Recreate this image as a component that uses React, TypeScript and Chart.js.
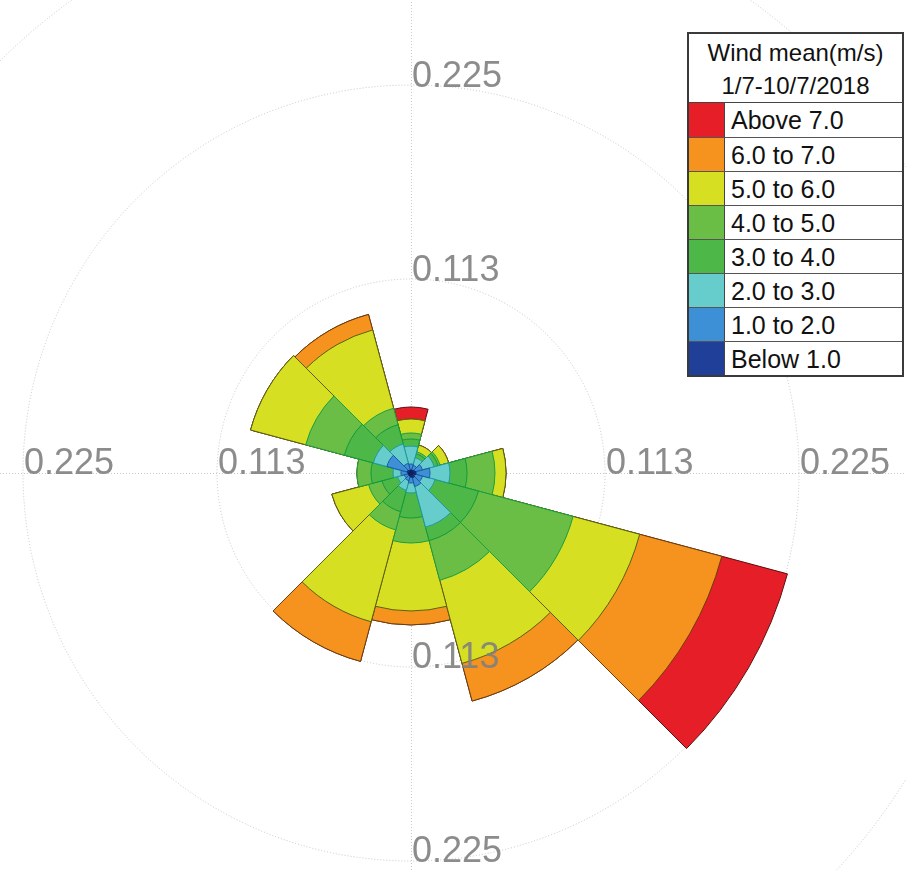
import { useEffect, useRef } from "react";
import { Chart, registerables } from "chart.js";

Chart.register(...registerables);

// 12 direction sectors of 30°, starting at North, clockwise
const directions = ["N", "NNE", "ENE", "E", "ESE", "SSE", "S", "SSW", "WSW", "W", "WNW", "NNW"];

// Frequency per speed bin and direction
const below1 = [0.0017, 0.0017, 0.0023, 0.0029, 0.0023, 0.0029, 0.0023, 0.0017, 0.0017, 0.0017, 0.0023, 0.0017];
const from1to2 = [0.0035, 0.0029, 0.0046, 0.0081, 0.0046, 0.0052, 0.0035, 0.0029, 0.0023, 0.0041, 0.0122, 0.0041];
const from2to3 = [0.0104, 0.0046, 0.007, 0.0116, 0.0075, 0.0244, 0.0058, 0.0058, 0.0041, 0.0046, 0.0081, 0.0116];
const from3to4 = [0.0041, 0.0023, 0.0023, 0.0099, 0.0261, 0.0081, 0.0145, 0.0128, 0.0093, 0.0128, 0.0174, 0.0116];
const from4to5 = [0.0035, 0.0012, 0.0012, 0.0162, 0.0568, 0.0238, 0.0145, 0.011, 0.0081, 0.0081, 0.0232, 0.0099];
const from5to6 = [0.0081, 0.0041, 0.0052, 0.0064, 0.04, 0.0499, 0.0394, 0.0551, 0.022, 0, 0.0331, 0.047];
const from6to7 = [0, 0, 0, 0, 0.0493, 0.0226, 0.0081, 0.0238, 0, 0, 0, 0.0093];
const above7 = [0.007, 0, 0, 0, 0.0394, 0, 0, 0, 0, 0, 0, 0];

const binSeries = [below1, from1to2, from2to3, from3to4, from4to5, from5to6, from6to7, above7];
const binLabels = ["Below 1.0", "1.0 to 2.0", "2.0 to 3.0", "3.0 to 4.0", "4.0 to 5.0", "5.0 to 6.0", "6.0 to 7.0", "Above 7.0"];
const binColors = ["#1f3f99", "#3d8fd6", "#66cccc", "#4db848", "#6abd45", "#d7df23", "#f6921e", "#e61e27"];
const binBorders = ["#0d1f5c", "#1d5aa0", "#1f9aa0", "#139a3a", "#1aa03e", "#5a6010", "#6b3e0c", "#5a1010"];

const tickValues = [0.1125, 0.225, 0.3375];
const tickLabels = ["0.113", "0.225", "0.338"];
const legendTitle = ["Wind mean(m/s)", "1/7-10/7/2018"];

const CANVAS = 1200;
const CENTER_X = 411;
const CENTER_Y = 473;

const overlayPlugin = {
  id: "roseOverlay",
  beforeDatasetsDraw(chart: any) {
    const s = chart.scales.r;
    const ctx = chart.ctx;
    ctx.save();
    ctx.strokeStyle = "#c8c8c8";
    ctx.lineWidth = 1;
    ctx.setLineDash([1, 2]);
    ctx.beginPath();
    ctx.moveTo(s.xCenter + 0.5, 0);
    ctx.lineTo(s.xCenter + 0.5, chart.height);
    ctx.moveTo(0, s.yCenter + 0.5);
    ctx.lineTo(chart.width, s.yCenter + 0.5);
    ctx.stroke();
    ctx.restore();
  },
  afterDatasetsDraw(chart: any) {
    const s = chart.scales.r;
    const ctx = chart.ctx;
    ctx.save();
    ctx.font = '36px "Liberation Sans", Arial, sans-serif';
    ctx.fillStyle = "rgba(128,128,128,0.9)";
    ctx.textAlign = "left";
    ctx.textBaseline = "alphabetic";
    tickValues.forEach((v, i) => {
      const r = s.getDistanceFromCenterForValue(v);
      const t = tickLabels[i];
      ctx.fillText(t, s.xCenter + 1, s.yCenter - r + 2);
      ctx.fillText(t, s.xCenter + r + 1, s.yCenter + 1);
      ctx.fillText(t, s.xCenter + 1, s.yCenter + r + 1);
      ctx.fillText(t, s.xCenter - r + 1, s.yCenter + 1);
    });
    ctx.restore();
  },
};

export default function App() {
  const ref = useRef<HTMLCanvasElement | null>(null);

  useEffect(() => {
    if (!ref.current) return;
    const cumulative = binSeries.map((_, b) =>
      directions.map((_, d) => binSeries.slice(0, b + 1).reduce((acc, arr) => acc + arr[d], 0))
    );
    const chart = new Chart(ref.current, {
      type: "polarArea",
      data: {
        labels: directions,
        datasets: binSeries.map((_, b) => ({
          label: binLabels[b],
          data: cumulative[b],
          backgroundColor: binColors[b],
          borderColor: binBorders[b],
          borderWidth: 1,
        })),
      },
      options: {
        responsive: false,
        animation: false,
        devicePixelRatio: 1,
        layout: { padding: 0 },
        plugins: { legend: { display: false }, tooltip: { enabled: false } },
        scales: {
          r: {
            type: "radialLinear",
            min: 0,
            max: (0.225 * (CANVAS / 2)) / 388,
            startAngle: -15,
            afterBuildTicks: (scale: any) => {
              scale.ticks = [{ value: 0 }, ...tickValues.map((v) => ({ value: v }))];
            },
            ticks: { display: false },
            pointLabels: { display: false },
            angleLines: { display: false },
            grid: { circular: true, color: "#c4c4c4", lineWidth: 1 },
            border: { dash: [1, 2] },
          },
        },
      } as any,
      plugins: [overlayPlugin],
    });
    return () => chart.destroy();
  }, []);

  const rows = binLabels.map((l, i) => ({ label: l, color: binColors[i] })).reverse();

  return (
    <div style={{ position: "absolute", left: 0, top: 0, width: 906, height: 871, overflow: "hidden", background: "#fff" }}>
      <div style={{ position: "absolute", left: CENTER_X - CANVAS / 2, top: CENTER_Y - CANVAS / 2, width: CANVAS, height: CANVAS }}>
        <canvas ref={ref} width={CANVAS} height={CANVAS} style={{ width: CANVAS, height: CANVAS, display: "block" }} />
      </div>
      <div
        style={{
          position: "absolute",
          left: 687,
          top: 32,
          width: 217,
          border: "2px solid #3a3a3a",
          background: "#fff",
          fontFamily: '"Liberation Sans", Arial, sans-serif',
          fontSize: 24,
          color: "#111",
          boxSizing: "border-box",
        }}
      >
        <div style={{ textAlign: "center", lineHeight: "33px", paddingTop: 2, borderBottom: "1px solid #444", height: 66 }}>
          <div>{legendTitle[0]}</div>
          <div>{legendTitle[1]}</div>
        </div>
        {rows.map((r, i) => (
          <div
            key={r.label}
            style={{
              display: "flex",
              height: 34,
              borderTop: i === 0 ? "none" : "1px solid #555",
              boxSizing: "border-box",
            }}
          >
            <div style={{ width: 35, background: r.color, borderRight: "1px solid #444" }} />
            <div style={{ paddingLeft: 6, lineHeight: "34px", fontSize: 25 }}>{r.label}</div>
          </div>
        ))}
      </div>
    </div>
  );
}
